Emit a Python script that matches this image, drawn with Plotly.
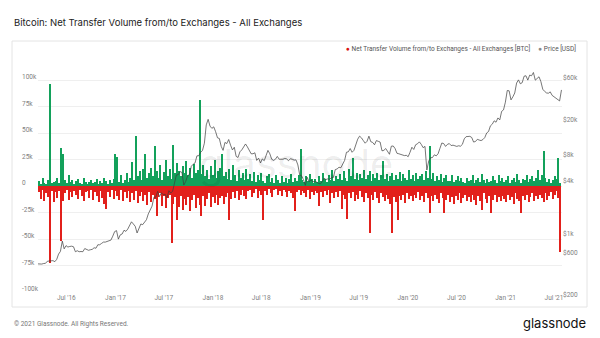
import pandas as pd
import plotly.graph_objects as go

# Weekly net transfer volume (thousand BTC): largest net inflow day (positive)
# and largest net outflow day (negative) in each week, starting 2016-03-17.
net_positive_k = [
    5, 2, 8, 3, 2, 6, 96, 3, 4, 5,
    8, 3, 36, 30, 6, 3, 10, 4, 6, 2,
    5, 7, 3, 2, 8, 4, 2, 4, 6, 3,
    4, 7, 2, 5, 3, 8, 5, 2, 6, 3,
    7, 30, 27, 4, 10, 3, 6, 12, 4, 8,
    23, 6, 47, 9, 14, 6, 16, 30, 8, 12,
    17, 9, 38, 14, 8, 20, 6, 13, 25, 9,
    16, 7, 39, 12, 22, 14, 9, 19, 12, 24,
    10, 17, 8, 21, 12, 15, 81, 11, 20, 9,
    15, 7, 19, 10, 25, 8, 14, 17, 30, 9,
    13, 7, 16, 6, 20, 10, 5, 15, 8, 12,
    6, 16, 7, 11, 5, 13, 4, 10, 6, 12,
    5, 3, 9, 11, 4, 8, 3, 10, 6, 3,
    9, 4, 8, 3, 7, 11, 4, 8, 5, 10,
    35, 6, 4, 9, 5, 11, 7, 3, 7, 4,
    9, 5, 12, 7, 4, 10, 6, 15, 5, 9,
    7, 11, 6, 14, 8, 5, 16, 9, 26, 7,
    12, 6, 11, 8, 15, 7, 10, 14, 5, 11,
    8, 12, 6, 10, 24, 7, 11, 5, 9, 12,
    6, 10, 7, 13, 5, 11, 8, 6, 15, 7,
    10, 5, 12, 7, 9, 11, 6, 14, 8, 38,
    7, 12, 5, 9, 6, 11, 4, 8, 10, 5,
    5, 10, 4, 6, 9, 5, 8, 4, 3, 8,
    5, 6, 10, 3, 6, 8, 4, 11, 6, 3,
    7, 4, 5, 9, 6, 3, 10, 5, 8, 4,
    6, 9, 3, 6, 8, 4, 11, 6, 3, 7,
    6, 10, 4, 7, 9, 5, 8, 15, 6, 10,
    33, 8, 4, 7, 3, 6, 9, 7, 26, 3,
]
net_negative_k = [
    -6, -12, -4, -14, -7, -10, -73, -5, -15, -6,
    -11, -5, -52, -14, -7, -4, -13, -6, -10, -5,
    -8, -12, -4, -9, -14, -6, -5, -11, -4, -13,
    -6, -9, -15, -5, -11, -17, -22, -6, -10, -4,
    -12, -5, -9, -13, -4, -14, -6, -11, -5, -15,
    -7, -13, -5, -16, -9, -6, -14, -8, -18, -6,
    -15, -8, -12, -28, -10, -7, -19, -9, -21, -11,
    -8, -54, -17, -10, -32, -20, -9, -23, -12, -18,
    -10, -24, -13, -8, -21, -11, -18, -28, -9, -19,
    -12, -7, -20, -10, -16, -8, -18, -11, -9, -17,
    -10, -7, -32, -12, -6, -11, -5, -13, -8, -4,
    -9, -12, -5, -4, -10, -7, -3, -11, -5, -8,
    -32, -5, -8, -3, -7, -10, -4, -3, -8, -5,
    -9, -4, -6, -10, -5, -7, -11, -24, -6, -4,
    -8, -5, -7, -10, -4, -12, -6, -8, -5, -7,
    -19, -6, -10, -5, -8, -4, -16, -7, -11, -6,
    -10, -5, -22, -8, -12, -31, -7, -11, -6, -14,
    -8, -12, -5, -10, -15, -7, -11, -44, -8, -13,
    -6, -11, -16, -7, -10, -14, -8, -12, -17, -44,
    -10, -15, -32, -9, -13, -8, -16, -7, -12, -9,
    -14, -8, -11, -6, -13, -9, -15, -7, -11, -25,
    -9, -14, -8, -12, -16, -7, -11, -25, -13, -8,
    -15, -10, -17, -9, -13, -7, -16, -11, -8, -14,
    -10, -15, -8, -13, -18, -9, -14, -23, -7, -12,
    -16, -9, -25, -13, -8, -15, -10, -14, -9, -12,
    -15, -8, -13, -10, -17, -7, -12, -14, -25, -9,
    -13, -8, -15, -10, -7, -14, -9, -12, -8, -11,
    -15, -7, -13, -9, -6, -12, -8, -5, -11, -62,
]

# Weekly BTC price (USD), 2016-03-17 .. 2021-07-29
price_usd = [
    # 2016
    418, 416, 416, 422, 424, 448, 450, 448, 455, 443, 470, 540, 580, 760, 620,
    675, 650, 660, 665, 655, 575, 590, 575, 578, 575, 625, 608, 597, 605, 612,
    638, 630, 690, 690, 715, 740, 740, 755, 770, 780, 865, 975,
    # 2017
    1000, 800, 895, 915, 1010, 980, 1040, 1170, 1260, 1190, 1120, 940, 1040,
    1190, 1170, 1230, 1330, 1550, 1750, 1900, 2400, 2400, 2800, 2440, 2700, 2560,
    2600, 2360, 2850, 2680, 2800, 3440, 4300, 4330, 4700, 4600, 3300, 3630, 4200,
    4350, 5400, 5700, 5900, 7100, 7130, 7800, 8200, 9900, 16000, 18500, 15500, 14600,
    # 2018
    15200, 13400, 11400, 11200, 9100, 8200, 10100, 9800, 10900, 9400, 8300, 8900,
    7000, 6800, 7900, 8300, 9000, 9700, 9000, 8100, 7500, 7500, 7700, 6300, 6700,
    5900, 6550, 6250, 7400, 8200, 7500, 6500, 6300, 6500, 7000, 6500, 6500, 6500,
    6640, 6550, 6250, 6590, 6500, 6350, 6400, 5600, 4300, 4200, 3800, 3270, 4050, 3600,
    # 2019
    3780, 3600, 3620, 3580, 3450, 3400, 3600, 3960, 3820, 3880, 3860, 4000, 4030,
    4960, 5040, 5270, 5200, 5750, 6300, 7800, 7900, 8600, 7800, 8200, 9500, 11000,
    11900, 11400, 10600, 9900, 10400, 11900, 10300, 10100, 9500, 10600, 10400,
    10200, 8100, 8200, 8600, 8000, 7400, 9150, 9200, 8600, 7600, 7500, 7400, 7200,
    7150, 7200,
    # 2020
    6950, 7800, 8900, 8400, 9500, 9750, 10250, 9600, 8800, 9100, 4900, 6200, 6750,
    6800, 7300, 7100, 7500, 8650, 9950, 9800, 9100, 9600, 9800, 9300, 9400, 9250,
    9100, 9250, 9150, 9600, 11100, 11750, 11800, 11850, 11500, 10200, 10350, 10950,
    10750, 10600, 10900, 11500, 12950, 13450, 15600, 16300, 17800, 17150, 19200,
    18250, 22800, 23700, 29000,
    # 2021
    39400, 39100, 30800, 33400, 36900, 47900, 52100, 47000, 48400, 57300, 58000,
    51700, 59000, 58000, 63200, 51700, 53500, 56500, 49700, 40700, 38500, 37000,
    36700, 38000, 34700, 33500, 32900, 31800, 30000, 40000,
]

left_tick_vals = [-100, -75, -50, -25, 0, 25, 50, 75, 100]
left_tick_text = ["-100k", "-75k", "-50k", "-25k", "0", "25k", "50k", "75k", "100k"]
right_tick_vals = [200, 600, 1000, 4000, 8000, 20000, 60000]
right_tick_text = ["$200", "$600", "$1k", "$4k", "$8k", "$20k", "$60k"]
x_tick_vals = ["2016-07-01", "2017-01-01", "2017-07-01", "2018-01-01", "2018-07-01",
               "2019-01-01", "2019-07-01", "2020-01-01", "2020-07-01", "2021-01-01",
               "2021-07-01"]
x_tick_text = ["Jul '16", "Jan '17", "Jul '17", "Jan '18", "Jul '18", "Jan '19",
               "Jul '19", "Jan '20", "Jul '20", "Jan '21", "Jul '21"]

GREEN = "#13a15b"
RED = "#e2201b"
FONT = "Roboto"

week_start = pd.Timestamp("2016-03-17")
bar_x = pd.date_range(week_start, periods=len(net_positive_k), freq="7D") + pd.Timedelta(hours=84)
price_x = pd.date_range(week_start, periods=len(price_usd), freq="7D")
bar_ms = 5 * 24 * 3600 * 1000

fig = go.Figure()
fig.add_trace(go.Bar(x=bar_x, y=net_positive_k, width=bar_ms, marker=dict(color=GREEN, line=dict(width=0)),
                     showlegend=False, hoverinfo="skip"))
fig.add_trace(go.Bar(x=bar_x, y=net_negative_k, width=bar_ms, marker=dict(color=RED, line=dict(width=0)),
                     showlegend=False, hoverinfo="skip"))
fig.add_trace(go.Scatter(x=price_x, y=price_usd, yaxis="y2", mode="lines",
                         line=dict(color="#3c3c3c", width=0.7), showlegend=False, hoverinfo="skip"))

W, H = 600, 338
L, R, T, B = 38, 38, 65, 46
pw, ph = W - L - R, H - T - B


def px_x(x):
    return (x - L) / pw


def px_y(y):
    return (H - B - y) / ph


fig.update_layout(
    width=W, height=H,
    margin=dict(l=L, r=R, t=T, b=B),
    paper_bgcolor="white", plot_bgcolor="white",
    barmode="relative", bargap=0,
    font=dict(family=FONT, color="#777", size=6.5),
    xaxis=dict(type="date", range=["2016-03-17", "2021-07-31"], tickvals=x_tick_vals,
               ticktext=x_tick_text, showgrid=False, zeroline=False, showline=False,
               ticks="", tickfont=dict(size=6.5, color="#808080")),
    yaxis=dict(range=[-100, 114.2], tickvals=left_tick_vals, showticklabels=False,
               showgrid=True, gridcolor="#efefef", gridwidth=1, zeroline=False, ticks=""),
    yaxis2=dict(type="log", overlaying="y", side="right", range=[2.30103, 4.886],
                tickvals=right_tick_vals, ticktext=right_tick_text, showgrid=False,
                zeroline=False, ticks="", ticklabelshift=3,
                tickfont=dict(size=6.5, color="#808080")),
)

annotations = []
for v, t in zip(left_tick_vals, left_tick_text):
    annotations.append(dict(x=px_x(20), y=v, xref="paper", yref="y", text=t, showarrow=False,
                            xanchor="left", yanchor="middle", yshift=3,
                            font=dict(size=6.5, color="#808080", family=FONT)))

annotations += [
    dict(x=px_x(12), y=px_y(22), xref="paper", yref="paper", xanchor="left", yanchor="middle",
         showarrow=False, text="Bitcoin: Net Transfer Volume from/to Exchanges - All Exchanges",
         font=dict(family="Inter", size=9.5, color="#222")),
    dict(x=px_x(578), y=px_y(49), xref="paper", yref="paper", xanchor="right", yanchor="middle",
         showarrow=False,
         text=("<span style='color:#d9140f'>●</span> Net Transfer Volume from/to Exchanges - All Exchanges [BTC]"
               "     <span style='color:#8a8a8a'>●</span> Price [USD]"),
         font=dict(family=FONT, size=6.5, color="#555")),
    dict(x=px_x(296), y=px_y(163), xref="paper", yref="paper", xanchor="center", yanchor="middle",
         showarrow=False, text="glassnode",
         font=dict(family="Inter", size=40, color="rgba(0,0,0,0.07)")),
    dict(x=px_x(12), y=px_y(324), xref="paper", yref="paper", xanchor="left", yanchor="middle",
         showarrow=False, text="© 2021 Glassnode. All Rights Reserved.",
         font=dict(family=FONT, size=6.5, color="#777")),
    dict(x=px_x(588), y=px_y(323), xref="paper", yref="paper", xanchor="right", yanchor="middle",
         showarrow=False, text="glassnode",
         font=dict(family="Inter", size=13, color="#111")),
]
fig.update_layout(annotations=annotations)

fig.add_shape(type="rect", xref="paper", yref="paper", x0=px_x(12), x1=px_x(587),
              y0=px_y(307), y1=px_y(41), line=dict(color="#e4e4e4", width=1), layer="below")

fig.write_html("out.html")
